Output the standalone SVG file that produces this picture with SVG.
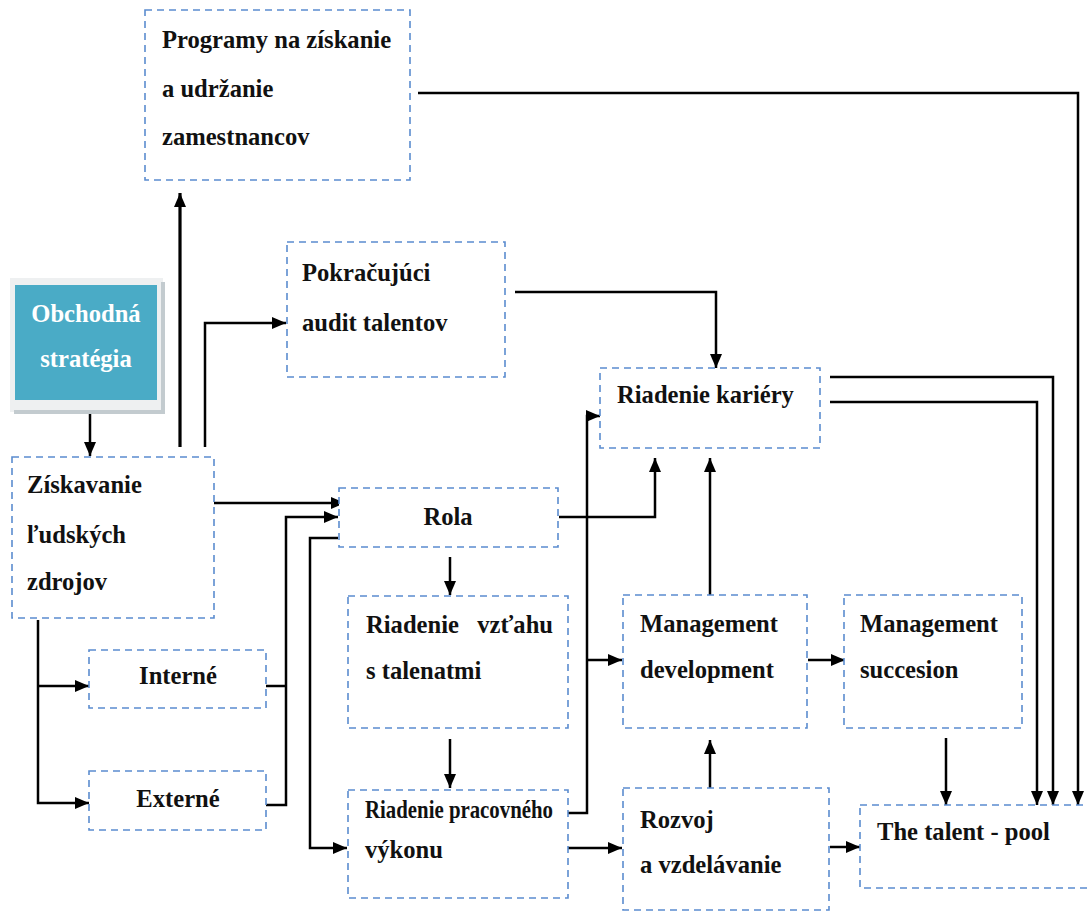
<svg xmlns="http://www.w3.org/2000/svg" width="1088" height="913" viewBox="0 0 1088 913">
  <style>
    .box { fill: #ffffff; stroke: #5b8ccf; stroke-width: 1.6; stroke-dasharray: 7 5; }
    .lbl { font-weight: bold; font-size: 24.6px; fill: #111111; }
    .wht { fill: #ffffff; }
    .ln { fill: none; stroke: #000000; stroke-width: 2.5; }
    .thick { stroke-width: 3.2; }
  </style>
  <defs>
    <marker id="arr" markerUnits="userSpaceOnUse" markerWidth="14" markerHeight="12" refX="14" refY="6" orient="auto">
      <path d="M0,0 L14,6 L0,12 z" fill="#000000"/>
    </marker>
  </defs>
  <rect width="1088" height="913" fill="#ffffff"/>

  <!-- connectors -->
  <g id="connectors">
    <!-- Programy -> talent pool -->
    <path class="ln" d="M418,93 H1078 V805" marker-end="url(#arr)"/>
    <!-- Riadenie kariéry -> talent pool (two lines) -->
    <path class="ln" d="M830,377 H1053 V805" marker-end="url(#arr)"/>
    <path class="ln" d="M830,402 H1037 V805" marker-end="url(#arr)"/>
    <!-- Management succesion -> talent pool -->
    <path class="ln" d="M946,738 V805" marker-end="url(#arr)"/>
    <!-- Management development -> Management succesion -->
    <path class="ln" d="M808,660 H845" marker-end="url(#arr)"/>
    <!-- Rozvoj -> talent pool -->
    <path class="ln" d="M830,847 H860" marker-end="url(#arr)"/>
    <!-- Rozvoj -> Management development -->
    <path class="ln" d="M710,788 V740" marker-end="url(#arr)"/>
    <!-- Management development -> Riadenie kariéry -->
    <path class="ln" d="M710,595 V458" marker-end="url(#arr)"/>
    <!-- Rola -> Riadenie kariéry -->
    <path class="ln" d="M559,517 H655 V458" marker-end="url(#arr)"/>
    <!-- Pokračujúci audit -> Riadenie kariéry -->
    <path class="ln" d="M515,292 H716 V368" marker-end="url(#arr)"/>
    <!-- Riadenie pracovného výkonu -> Riadenie kariéry, branch to Management development -->
    <path class="ln" d="M568,813 H587 V416 H600" marker-end="url(#arr)"/>
    <path class="ln" d="M587,660 H622" marker-end="url(#arr)"/>
    <!-- Riadenie pracovného výkonu -> Rozvoj -->
    <path class="ln" d="M568,848 H622" marker-end="url(#arr)"/>
    <!-- Riadenie vzťahu -> Riadenie pracovného výkonu -->
    <path class="ln" d="M450,739 V788" marker-end="url(#arr)"/>
    <!-- Rola -> Riadenie vzťahu -->
    <path class="ln" d="M450,557 V595" marker-end="url(#arr)"/>
    <!-- Obchodná stratégia -> Získavanie -->
    <path class="ln" d="M90,403 V456" marker-end="url(#arr)"/>
    <!-- Získavanie -> Interné / Externé -->
    <path class="ln" d="M38,620 V803 H89" marker-end="url(#arr)"/>
    <path class="ln" d="M38,686 H89" marker-end="url(#arr)"/>
    <!-- Interné / Externé -> Rola -->
    <path class="ln" d="M266,686 H286"/>
    <path class="ln" d="M266,805 H286 V517 H338" marker-end="url(#arr)"/>
    <!-- Rola -> Riadenie pracovného výkonu -->
    <path class="ln" d="M338,538 H310 V848 H347" marker-end="url(#arr)"/>
    <!-- Získavanie -> Rola -->
    <path class="ln" d="M214,503 H345" marker-end="url(#arr)"/>
    <!-- Získavanie -> Programy -->
    <path class="ln thick" d="M180,447 V193" marker-end="url(#arr)"/>
    <!-- Získavanie -> Pokračujúci audit -->
    <path class="ln" d="M205,447 V323 H286" marker-end="url(#arr)"/>
  </g>

  <g font-family="Liberation Serif, Tinos, Times New Roman, DejaVu Serif, serif">
  <g id="programy">
    <rect class="box" x="145" y="10" width="265" height="170"/>
    <text class="lbl" x="162" y="48">Programy na získanie</text>
    <text class="lbl" x="162" y="97">a udržanie</text>
    <text class="lbl" x="162" y="145">zamestnancov</text>
  </g>

  <g id="audit">
    <rect class="box" x="287" y="242" width="218" height="135"/>
    <text class="lbl" x="302" y="281">Pokračujúci</text>
    <text class="lbl" x="302" y="331">audit talentov</text>
  </g>

  <g id="strategia">
    <rect x="10" y="278" width="153" height="134" fill="#eef0f1"/>
    <path d="M163,282 V412 H14" fill="none" stroke="#c3cbcf" stroke-width="4"/>
    <rect x="15" y="285" width="142" height="115" fill="#4aabc6"/>
    <text class="lbl wht" x="86" y="322" text-anchor="middle">Obchodná</text>
    <text class="lbl wht" x="86" y="367" text-anchor="middle">stratégia</text>
  </g>

  <g id="ziskavanie">
    <rect class="box" x="12" y="457" width="202" height="161"/>
    <text class="lbl" x="27" y="493">Získavanie</text>
    <text class="lbl" x="27" y="543">ľudských</text>
    <text class="lbl" x="27" y="590">zdrojov</text>
  </g>

  <g id="interne">
    <rect class="box" x="89" y="650" width="177" height="58"/>
    <text class="lbl" x="178" y="684" text-anchor="middle">Interné</text>
  </g>

  <g id="externe">
    <rect class="box" x="89" y="771" width="177" height="59"/>
    <text class="lbl" x="178" y="807" text-anchor="middle">Externé</text>
  </g>

  <g id="rola">
    <rect class="box" x="339" y="488" width="219" height="59"/>
    <text class="lbl" x="448" y="525" text-anchor="middle">Rola</text>
  </g>

  <g id="kariera">
    <rect class="box" x="600" y="368" width="220" height="80"/>
    <text class="lbl" x="617" y="403">Riadenie kariéry</text>
  </g>

  <g id="vztah">
    <rect class="box" x="348" y="596" width="220" height="132"/>
    <text class="lbl" y="633"><tspan x="366">Riadenie</tspan><tspan x="553" text-anchor="end">vzťahu</tspan></text>
    <text class="lbl" x="366" y="679">s talenatmi</text>
  </g>

  <g id="vykon">
    <rect class="box" x="348" y="790" width="220" height="108"/>
    <text class="lbl" x="365" y="818" font-size="20" textLength="188" lengthAdjust="spacingAndGlyphs">Riadenie pracovného</text>
    <text class="lbl" x="365" y="858" font-size="20">výkonu</text>
  </g>

  <g id="mgmt-development">
    <rect class="box" x="623" y="595" width="184" height="133"/>
    <text class="lbl" x="640" y="632">Management</text>
    <text class="lbl" x="640" y="678">development</text>
  </g>

  <g id="mgmt-succesion">
    <rect class="box" x="844" y="595" width="178" height="133"/>
    <text class="lbl" x="860" y="632">Management</text>
    <text class="lbl" x="860" y="678">succesion</text>
  </g>

  <g id="rozvoj">
    <rect class="box" x="623" y="788" width="206" height="122"/>
    <text class="lbl" x="640" y="828">Rozvoj</text>
    <text class="lbl" x="640" y="873">a vzdelávanie</text>
  </g>

  <g id="talent-pool">
    <rect class="box" x="860" y="805" width="234" height="83"/>
    <text class="lbl" x="877" y="840">The talent - pool</text>
  </g>
  </g>
</svg>
